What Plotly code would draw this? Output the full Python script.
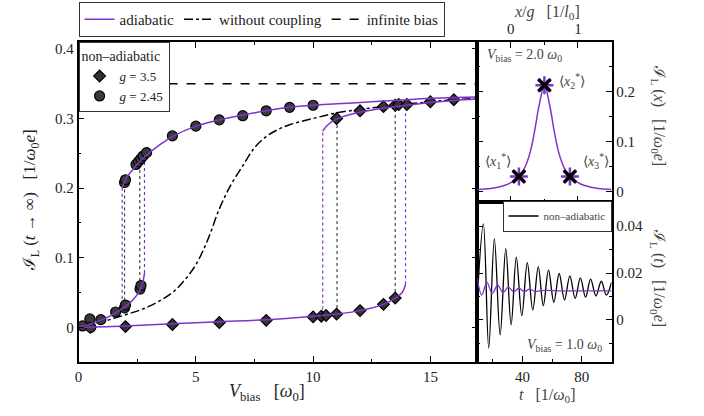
import plotly.graph_objects as go

W, H = 704, 416
FONT = "Liberation Serif"
PURPLE = "#8033cc"
TXT = "#222222"
GRAY = "#444444"

# ---------------- data ----------------
# main panel: non-adiabatic markers
circ_x = [0.17, 0.48, 0.52, 0.95, 1.58, 1.96, 2.0, 1.96, 2.0, 2.62, 2.66,
          2.45, 2.55, 2.65, 2.75, 2.9, 4.0, 5.0, 6.0, 7.0, 8.0, 9.0, 10.0]
circ_y = [0.002, 0.012, 0.0, 0.011, 0.022, 0.028, 0.032, 0.208, 0.212, 0.055, 0.060,
          0.234, 0.238, 0.242, 0.246, 0.251, 0.275, 0.289, 0.298, 0.304, 0.311, 0.316, 0.319]
diam_x = [0.5, 2.0, 4.0, 6.0, 8.0, 10.0, 10.35, 10.55, 11.0, 12.0, 13.0, 13.5,
          11.0, 12.0, 13.0, 13.5, 13.65, 14.0, 15.0, 16.0]
diam_y = [0.0, 0.001, 0.004, 0.007, 0.010, 0.015, 0.016, 0.017, 0.019, 0.024, 0.033, 0.042,
          0.300, 0.311, 0.317, 0.319, 0.320, 0.320, 0.324, 0.327]

# adiabatic branches
ad245_lo_x = [0.0, 0.5, 1.0, 1.5, 2.0, 2.3, 2.5, 2.65, 2.75, 2.81]
ad245_lo_y = [0.0, 0.005, 0.011, 0.019, 0.030, 0.039, 0.047, 0.056, 0.066, 0.078]
ad245_hi_x = [1.86, 1.9, 2.0, 2.3, 2.6, 3.0, 3.5, 4.0, 5.0, 6.0, 7.0, 8.0, 9.0,
              10.0, 11.0, 12.0, 13.0, 14.0, 15.0, 16.0, 17.0]
ad245_hi_y = [0.198, 0.205, 0.213, 0.226, 0.238, 0.250, 0.263, 0.274, 0.289, 0.298,
              0.305, 0.311, 0.316, 0.319, 0.321, 0.323, 0.325, 0.327, 0.329, 0.330, 0.331]
ad35_lo_x = [0.0, 2.0, 4.0, 6.0, 8.0, 10.0, 11.0, 12.0, 13.0, 13.5, 13.8, 13.94]
ad35_lo_y = [0.0, 0.002, 0.005, 0.008, 0.011, 0.016, 0.019, 0.024, 0.033, 0.042, 0.050, 0.062]
ad35_hi_x = [10.41, 10.6, 11.0, 11.5, 12.0, 13.0, 14.0, 15.0, 16.0, 17.0]
ad35_hi_y = [0.282, 0.290, 0.299, 0.305, 0.309, 0.315, 0.319, 0.323, 0.326, 0.328]

# jumps (dotted verticals)
pur_jump_x = [1.86, 2.81, 10.41, 13.94]
pur_jump_lo = [0.041, 0.078, 0.017, 0.062]
pur_jump_hi = [0.198, 0.245, 0.282, 0.322]
blk_jump_x = [1.96, 2.61, 11.02, 13.5]
blk_jump_lo = [0.030, 0.058, 0.019, 0.042]
blk_jump_hi = [0.210, 0.240, 0.300, 0.320]

# without coupling
nc_x = [0, 1, 2, 3, 4, 4.5, 5, 5.5, 6, 6.5, 7, 7.5, 8, 8.5, 9, 10, 11, 12, 13, 14, 15, 16, 17]
nc_y = [0.0, 0.008, 0.018, 0.030, 0.050, 0.067, 0.090, 0.125, 0.170, 0.205, 0.232, 0.258,
        0.274, 0.284, 0.291, 0.300, 0.308, 0.313, 0.317, 0.321, 0.324, 0.327, 0.329]

# infinite bias
inf_x = [0, 17]
inf_y = [0.35, 0.35]

# top-right panel: current density vs x/g
dens_x = [-0.5, -0.3, -0.1, 0.0, 0.12, 0.2, 0.28, 0.35, 0.42, 0.5,
          0.58, 0.65, 0.72, 0.8, 0.88, 1.0, 1.1, 1.3, 1.5]
dens_y = [0.004, 0.006, 0.012, 0.018, 0.030, 0.046, 0.075, 0.118, 0.172, 0.213,
          0.172, 0.118, 0.075, 0.046, 0.030, 0.018, 0.012, 0.006, 0.004]
star_x = [0.12, 0.5, 0.88]
star_y = [0.030, 0.213, 0.030]

# bottom-right panel: current vs t
na_t = [9.5, 13.6, 17.2, 21.0, 24.9, 28.7, 32.3, 35.8, 39.5, 43.2, 46.9, 50.6, 54.0,
        57.5, 61.1, 64.7, 68.3, 71.9, 75.5, 79.0, 82.5, 85.9, 89.5, 93.1, 96.5, 100.0]
na_I = [0.009, 0.041, -0.012, 0.0346, -0.0064, 0.0304, -0.0021, 0.0268, 0.0018, 0.0244,
        0.0042, 0.0226, 0.0061, 0.0212, 0.0075, 0.0198, 0.0085, 0.0188, 0.0092, 0.0179,
        0.0097, 0.0174, 0.0102, 0.0165, 0.0106, 0.0160]
ad_t = [9.5, 12.5, 16.0, 19.6, 23.2, 26.8, 30.4, 34.0, 37.6, 41.2, 44.8, 48.4, 55, 65, 80, 100]
ad_I = [0.0177, 0.0106, 0.0160, 0.0113, 0.0148, 0.0117, 0.0140, 0.0120, 0.0135, 0.0121,
        0.0131, 0.0122, 0.0126, 0.0124, 0.0124, 0.0124]

# ---------------- helpers ----------------
def px(x):
    return x / W


def py(y):
    return 1 - y / H


def segments(xs, los, his):
    X, Y = [], []
    for x, a, b in zip(xs, los, his):
        X += [x, x, None]
        Y += [a, b, None]
    return X, Y


fig = go.Figure()

# dotted jumps
jx, jy = segments(blk_jump_x, blk_jump_lo, blk_jump_hi)
fig.add_trace(go.Scatter(x=jx, y=jy, mode="lines", line=dict(color="#444444", width=1.2, dash="dot"),
                         showlegend=False, xaxis="x", yaxis="y"))
jx, jy = segments(pur_jump_x, pur_jump_lo, pur_jump_hi)
fig.add_trace(go.Scatter(x=jx, y=jy, mode="lines", line=dict(color=PURPLE, width=1.2, dash="dot"),
                         showlegend=False, xaxis="x", yaxis="y"))

# no coupling, infinite bias
fig.add_trace(go.Scatter(x=nc_x, y=nc_y, mode="lines", line=dict(color="black", width=1.5, dash="dashdot"),
                         line_shape="spline", name="without coupling", legend="legend", legendrank=2,
                         xaxis="x", yaxis="y"))
fig.add_trace(go.Scatter(x=inf_x, y=inf_y, mode="lines", line=dict(color="black", width=1.5, dash="dash"),
                         name="infinite bias", legend="legend", legendrank=3, xaxis="x", yaxis="y"))

# markers
fig.add_trace(go.Scatter(x=diam_x, y=diam_y, mode="markers", name="<i>g</i> = 3.5", legend="legend2",
                         legendrank=1,
                         marker=dict(symbol="diamond", size=9, color="#333333", line=dict(color="black", width=1.2)),
                         xaxis="x", yaxis="y"))
fig.add_trace(go.Scatter(x=circ_x, y=circ_y, mode="markers", name="<i>g</i> = 2.45", legend="legend2",
                         legendrank=2,
                         marker=dict(symbol="circle", size=10, color="#3a3a3a", line=dict(color="black", width=1.2)),
                         xaxis="x", yaxis="y"))

# adiabatic branches (on top of markers)
for i, (xs, ys) in enumerate([(ad245_lo_x, ad245_lo_y), (ad245_hi_x, ad245_hi_y),
                              (ad35_lo_x, ad35_lo_y), (ad35_hi_x, ad35_hi_y)]):
    fig.add_trace(go.Scatter(x=xs, y=ys, mode="lines", line=dict(color=PURPLE, width=1.5),
                             line_shape="spline", name="adiabatic", legend="legend", legendrank=1,
                             showlegend=(i == 0), xaxis="x", yaxis="y"))

# top-right panel
fig.add_trace(go.Scatter(x=dens_x, y=dens_y, mode="lines", line=dict(color=PURPLE, width=1.5),
                         line_shape="spline", showlegend=False, xaxis="x2", yaxis="y2"))
fig.add_trace(go.Scatter(x=star_x, y=star_y, mode="markers", showlegend=False,
                         marker=dict(symbol="asterisk-open", size=15, color=PURPLE,
                                     line=dict(color=PURPLE, width=2.5)),
                         xaxis="x2", yaxis="y2"))
fig.add_trace(go.Scatter(x=star_x, y=star_y, mode="markers", showlegend=False,
                         marker=dict(symbol="x-thin-open", size=12, color="black",
                                     line=dict(color="black", width=3.5)),
                         xaxis="x2", yaxis="y2"))

# bottom-right panel
fig.add_trace(go.Scatter(x=na_t, y=na_I, mode="lines", line=dict(color="black", width=1.3),
                         line_shape="spline", name="non–adiabatic", legend="legend3",
                         xaxis="x3", yaxis="y3"))
fig.add_trace(go.Scatter(x=ad_t, y=ad_I, mode="lines", line=dict(color=PURPLE, width=1.3),
                         line_shape="spline", showlegend=False, xaxis="x3", yaxis="y3"))

# ---------------- axes ----------------
axcommon = dict(showline=True, linecolor="black", linewidth=1.5, ticks="inside", ticklen=6,
                tickwidth=1, tickcolor="black", mirror="allticks", showgrid=False, zeroline=False,
                tickfont=dict(family=FONT, size=15, color=TXT))

main_x = [px(75), px(476)]
main_y = [py(362), py(41)]
side_x = [px(476), px(611)]

fig.update_layout(
    width=W, height=H, margin=dict(l=0, r=0, t=0, b=0),
    paper_bgcolor="white", plot_bgcolor="white",
    font=dict(family=FONT, size=15, color=TXT),
    xaxis=dict(axcommon, domain=main_x, anchor="y", range=[0, 17], tickvals=[0, 5, 10, 15],
               minor=dict(dtick=2.5, ticks="inside", ticklen=3, tickcolor="black")),
    yaxis=dict(axcommon, domain=main_y, anchor="x", range=[-0.05, 0.41],
               tickvals=[0, 0.1, 0.2, 0.3, 0.4], ticktext=["0", "0.1", "0.2", "0.3", "0.4"],
               minor=dict(dtick=0.05, tick0=0, ticks="inside", ticklen=3, tickcolor="black")),
    xaxis2=dict(axcommon, domain=side_x, anchor="y2", side="top", range=[-0.5, 1.5], tickvals=[0, 1],
                minor=dict(dtick=0.5, tick0=0, ticks="inside", ticklen=3, tickcolor="black")),
    yaxis2=dict(axcommon, domain=[py(201), py(41)], anchor="x2", side="right", range=[-0.02, 0.30],
                tickvals=[0, 0.1, 0.2], ticktext=["0", "0.1", "0.2"],
                minor=dict(dtick=0.05, tick0=0, ticks="inside", ticklen=3, tickcolor="black")),
    xaxis3=dict(axcommon, domain=side_x, anchor="y3", range=[9.5, 100], tickvals=[40, 80],
                minor=dict(dtick=20, tick0=0, ticks="inside", ticklen=3, tickcolor="black")),
    yaxis3=dict(axcommon, domain=[py(362), py(201)], anchor="x3", side="right", range=[-0.018, 0.0505],
                tickvals=[0, 0.02, 0.04], ticktext=["0", "0.02", "0.04"],
                minor=dict(dtick=0.01, tick0=0, ticks="inside", ticklen=3, tickcolor="black")),
    legend=dict(orientation="h", x=px(75), y=py(1), xanchor="left", yanchor="top",
                bordercolor="#333333", borderwidth=1, bgcolor="white",
                font=dict(family=FONT, size=15, color=TXT), traceorder="normal",
                itemwidth=30, tracegroupgap=0),
    legend2=dict(x=px(75), y=py(41), xanchor="left", yanchor="top", bordercolor="#333333",
                 borderwidth=1, bgcolor="white", font=dict(family=FONT, size=13, color=TXT),
                 title=dict(text="non–adiabatic", font=dict(family=FONT, size=14, color=TXT)),
                 itemwidth=30, tracegroupgap=0),
    legend3=dict(x=px(611), y=py(200), xanchor="right", yanchor="top", bordercolor="#333333",
                 borderwidth=1, bgcolor="white", font=dict(family=FONT, size=11, color=GRAY),
                 itemwidth=30),
)

# ---------------- text annotations ----------------
ann = []


def add_text(text, x, y, size, color=TXT, angle=0, xanchor="center", yanchor="middle"):
    ann.append(dict(text=text, x=px(x), y=py(y), xref="paper", yref="paper", showarrow=False,
                    font=dict(family=FONT, size=size, color=color), textangle=angle,
                    xanchor=xanchor, yanchor=yanchor))


sp = "\u00a0\u00a0\u00a0"
add_text("<i>V</i><sub>bias</sub>" + sp + "[<i>ω</i><sub>0</sub>]", 265, 392, 18)
add_text("ℐ<sub>L</sub> (<i>t</i> → ∞)" + sp + "[1/<i>ω</i><sub>0</sub><i>e</i>]", 27, 200, 17, angle=-90)
add_text("<i>x</i>/<i>g</i>" + sp + "[1/<i>l</i><sub>0</sub>]", 546, 12, 16, color=GRAY)
add_text("ℐ<sub>L</sub> (<i>x</i>)" + sp + "[1/<i>ω</i><sub>0</sub><i>e</i>]", 658, 115, 16, color=GRAY, angle=90)
add_text("ℐ<sub>L</sub> (<i>t</i>)" + sp + "[1/<i>ω</i><sub>0</sub><i>e</i>]", 658, 278, 16, color=GRAY, angle=90)
add_text("<i>t</i>" + sp + "[1/<i>ω</i><sub>0</sub>]", 546, 395, 16, color=GRAY)
add_text("<i>V</i><sub>bias</sub> = 2.0 <i>ω</i><sub>0</sub>", 484, 55, 14, color=GRAY, xanchor="left")
add_text("<i>V</i><sub>bias</sub> = 1.0 <i>ω</i><sub>0</sub>", 603, 345, 14, color=GRAY, xanchor="right")
add_text("⟨<i>x</i><sub>1</sub><sup>*</sup>⟩", 497, 160, 14, color=GRAY)
add_text("⟨<i>x</i><sub>2</sub><sup>*</sup>⟩", 571, 80, 14, color=GRAY)
add_text("⟨<i>x</i><sub>3</sub><sup>*</sup>⟩", 595, 160, 14, color=GRAY)
fig.update_layout(annotations=ann)

fig.write_html("out.html", config={"displayModeBar": False},
               post_script="document.body.style.margin='0px';")
